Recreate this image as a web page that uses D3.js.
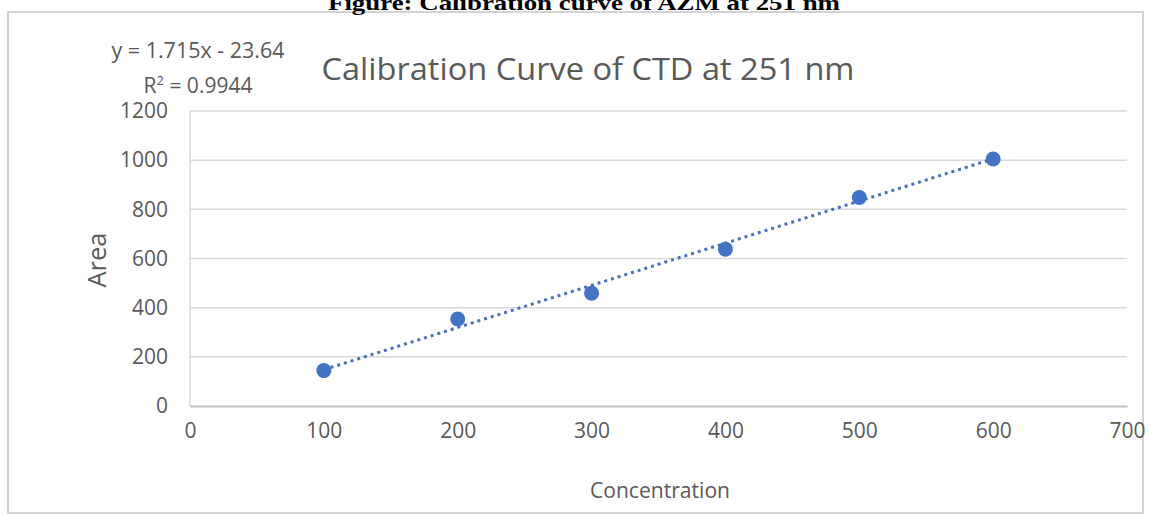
<!DOCTYPE html>
<html>
<head>
<meta charset="utf-8">
<script src="https://cdn.jsdelivr.net/npm/d3@7"></script>
<style>
  html, body { margin: 0; padding: 0; background: #ffffff; }
  svg { display: block; }
  text { font-family: "Open Sans", "Noto Sans", sans-serif; fill: #595959; }
</style>
</head>
<body>
<div id="chart"></div>
<script>
// Calibration standards: concentration vs. peak area
const concentration = [100, 200, 300, 400, 500, 600];
const area = [144, 354, 459, 638, 848, 1005];

// Linear fit reported on the chart
const slope = 1.715;
const intercept = -23.64;
const rSquared = 0.9944;

const xTicks = [0, 100, 200, 300, 400, 500, 600, 700];
const yTicks = [0, 200, 400, 600, 800, 1000, 1200];

const figureCaption = "Figure: Calibration curve of AZM at 251 nm";
const chartTitle = "Calibration Curve of CTD at 251 nm";
const xTitle = "Concentration";
const yTitle = "Area";

const W = 1149, H = 516;
const plot = { left: 190, right: 1127, top: 111, bottom: 406 };
const blue = "#4472c4";

const svg = d3.select("#chart").append("svg")
  .attr("width", W).attr("height", H);

// chart frame
svg.append("rect")
  .attr("x", 8).attr("y", 12)
  .attr("width", 1135).attr("height", 501)
  .attr("fill", "#ffffff")
  .attr("stroke", "#d3d3d3").attr("stroke-width", 2);

// caption above the frame
svg.append("text")
  .attr("x", 584).attr("y", 10)
  .attr("text-anchor", "middle")
  .attr("textLength", 512).attr("lengthAdjust", "spacingAndGlyphs")
  .style("font-family", "'Liberation Serif', 'Times New Roman', serif")
  .style("font-weight", "bold").style("font-size", "21px")
  .style("fill", "#000000")
  .text(figureCaption);

const x = d3.scaleLinear().domain([0, 700]).range([plot.left, plot.right]);
const y = d3.scaleLinear().domain([0, 1200]).range([plot.bottom, plot.top]);

// horizontal gridlines
svg.append("g")
  .selectAll("line")
  .data(yTicks.filter(v => v > 0))
  .join("line")
  .attr("x1", plot.left).attr("x2", plot.right)
  .attr("y1", d => y(d)).attr("y2", d => y(d))
  .attr("stroke", "#d9d9d9").attr("stroke-width", 1.5);

// left plot edge
svg.append("line")
  .attr("x1", plot.left).attr("x2", plot.left)
  .attr("y1", plot.top).attr("y2", plot.bottom)
  .attr("stroke", "#d9d9d9").attr("stroke-width", 1.5);

// x axis
const xAxis = svg.append("g")
  .attr("transform", `translate(0,${plot.bottom})`)
  .call(d3.axisBottom(x).tickValues(xTicks).tickSize(0).tickPadding(30).tickFormat(d3.format("d")));
xAxis.select(".domain").attr("stroke", "#bfbfbf").attr("stroke-width", 2.2);
xAxis.selectAll("text")
  .style("font-size", "21px").style("fill", "#595959")
  .attr("dy", "0.1em");

// y axis
const yAxis = svg.append("g")
  .attr("transform", `translate(${plot.left},0)`)
  .call(d3.axisLeft(y).tickValues(yTicks).tickSize(0).tickPadding(22).tickFormat(d3.format("d")));
yAxis.select(".domain").remove();
yAxis.selectAll("text")
  .style("font-size", "21px").style("fill", "#595959");

// trendline from fitted equation
const fitLine = d3.line()
  .x(d => x(d))
  .y(d => y(slope * d + intercept));
svg.append("path")
  .datum([d3.min(concentration), d3.max(concentration)])
  .attr("d", fitLine)
  .attr("fill", "none")
  .attr("stroke", "#4a6fbf")
  .attr("stroke-width", 3)
  .attr("stroke-dasharray", "3 4");

// data points
svg.append("g")
  .selectAll("circle")
  .data(concentration.map((c, i) => ({ c, a: area[i] })))
  .join("circle")
  .attr("cx", d => x(d.c))
  .attr("cy", d => y(d.a))
  .attr("r", 7.5)
  .attr("fill", blue);

// chart title
svg.append("text")
  .attr("x", 588).attr("y", 80)
  .attr("text-anchor", "middle")
  .attr("textLength", 533).attr("lengthAdjust", "spacingAndGlyphs")
  .style("font-size", "31px")
  .text(chartTitle);

// equation and R² labels
svg.append("text")
  .attr("x", 198).attr("y", 58)
  .attr("text-anchor", "middle")
  .attr("textLength", 173).attr("lengthAdjust", "spacingAndGlyphs")
  .style("font-size", "21px")
  .text(`y = ${slope}x - ${Math.abs(intercept)}`);

const r2 = svg.append("text")
  .attr("x", 198).attr("y", 93)
  .attr("text-anchor", "middle")
  .style("font-size", "21px");
r2.append("tspan").text("R");
r2.append("tspan").attr("dy", -8).style("font-size", "13px").text("2");
r2.append("tspan").attr("dy", 8).text(` = ${rSquared}`);

// axis titles
svg.append("text")
  .attr("x", 660).attr("y", 498)
  .attr("text-anchor", "middle")
  .attr("textLength", 140).attr("lengthAdjust", "spacingAndGlyphs")
  .style("font-size", "22px")
  .text(xTitle);

svg.append("text")
  .attr("transform", "translate(106,260) rotate(-90)")
  .attr("text-anchor", "middle")
  .attr("textLength", 55).attr("lengthAdjust", "spacingAndGlyphs")
  .style("font-size", "25px")
  .text(yTitle);
</script>
</body>
</html>
